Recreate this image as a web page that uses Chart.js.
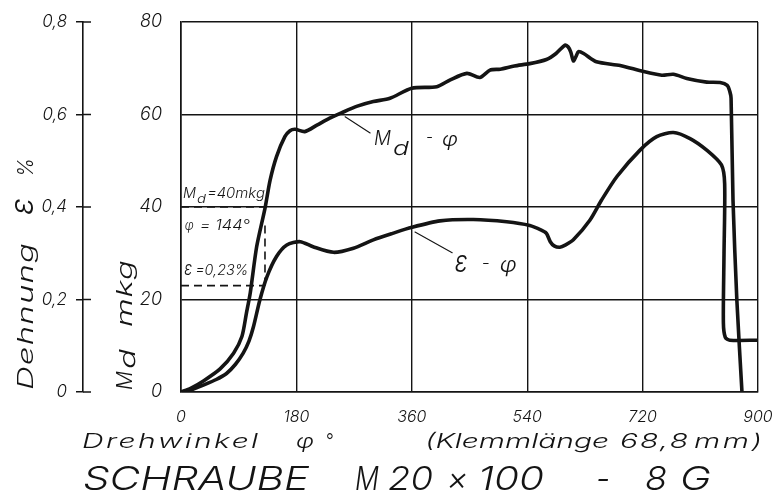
<!DOCTYPE html>
<html>
<head>
<meta charset="utf-8">
<script src="https://cdn.jsdelivr.net/npm/chart.js@4.4.1/dist/chart.umd.min.js"></script>
<style>
  html, body { margin: 0; padding: 0; background: #fff; }
  #wrap { width: 779px; height: 498px; }
</style>
</head>
<body>
<div id="wrap"><canvas id="chart" width="779" height="498"></canvas></div>
<script>
// Md - phi curve (Drehmoment in mkg over Drehwinkel in degrees)
const mdPhi = [0, 15, 35, 61, 82, 95, 102, 108, 118, 131, 139, 149, 162, 170, 178, 193, 212, 232, 251, 275,
  300, 326, 360, 399, 420, 446, 466, 482, 498, 520, 544, 570, 585, 599, 604, 608, 612, 616, 620, 628, 648, 685,
  721, 750, 768, 789, 820, 841, 852, 856, 858, 861, 867, 875];
const mdValues = [0, 0.8, 2.4, 5.0, 8.4, 12, 17, 21.4, 31.4, 39.7, 45.8, 50.9, 55.2, 56.5, 56.8, 56.3, 57.7, 59.2, 60.4, 61.8,
  62.8, 63.5, 65.7, 66.0, 67.5, 68.9, 68.0, 69.6, 69.8, 70.5, 71.0, 71.9, 73.2, 75.0, 74.6, 73.5, 71.6, 72.5, 73.6, 73.2, 71.4, 70.6,
  69.3, 68.5, 68.7, 67.8, 67.0, 66.9, 66.3, 65.0, 63.5, 41.5, 19.9, 0];

// Dehnung epsilon in % over Drehwinkel
const epsPhi = [0, 15, 35, 55, 71, 85, 97, 106, 113, 123, 134, 149, 165, 186, 206, 238, 269, 300, 330, 360, 404, 456,
  508, 544, 562, 570, 576, 582, 591, 600, 612, 638, 656, 680, 716, 742, 768, 794, 820, 843, 848, 847, 846, 849, 856, 900];
const epsValues = [0, 0.004, 0.015, 0.027, 0.040, 0.060, 0.084, 0.110, 0.141, 0.199, 0.249, 0.293, 0.318, 0.325, 0.314, 0.302, 0.311, 0.329, 0.343, 0.356, 0.370, 0.373,
  0.368, 0.360, 0.350, 0.343, 0.325, 0.316, 0.313, 0.318, 0.329, 0.372, 0.415, 0.466, 0.523, 0.552, 0.561, 0.548, 0.523, 0.491, 0.45, 0.30, 0.15, 0.118, 0.112, 0.112];

// tick labels
const xTickLabels = ['0', '180', '360', '540', '720', '900'];
const mdTickLabels = ['0', '20', '40', '60', '80'];
const epsTickLabels = ['0', '0,2', '0,4', '0,6', '0,8'];

// reading lines for Md = 40 mkg
const guideMdPhi = [0, 131];
const guideMd = [40, 40];
const guideEpsPhi = [0, 131];
const guideEps = [0.23, 0.23];
const guideVertPhi = [131, 131];
const guideVertMd = [36, 23];

// leader lines of the curve labels
const leaderMdPhi = [256, 295];
const leaderMd = [59.5, 56];
const leaderEpsPhi = [365, 423];
const leaderEps = [0.346, 0.301];

const FAM = 'Inter, "DejaVu Sans", sans-serif';
const INK = '#141414';

const pts = (xs, ys) => xs.map((x, i) => ({ x, y: ys[i] }));

// technical lettering is wide: stretch the glyphs, then open up the spacing
function fitText(ctx, str, x, y, size, width) {
  ctx.font = 'italic 300 ' + size + 'px ' + FAM;
  ctx.letterSpacing = '0px';
  const w0 = ctx.measureText(str).width;
  const n = [...str].length;
  let s = width ? width / w0 : 1;
  let ls = 0;
  if (s > 1.5 && n > 1) {
    s = 1.5;
    ls = (width / s - w0) / (n - 1);
  }
  ctx.save();
  ctx.letterSpacing = ls + 'px';
  ctx.translate(x, y);
  ctx.scale(s, 1);
  ctx.fillText(str, 0, 0);
  ctx.restore();
}

function upText(ctx, str, x, y, size, width) {
  ctx.save();
  ctx.translate(x, y);
  ctx.rotate(-Math.PI / 2);
  fitText(ctx, str, 0, 0, size, width);
  ctx.restore();
}

const textPlugin = {
  id: 'drawingText',
  afterDraw(chart) {
    const ctx = chart.ctx;
    const sx = chart.scales.x, sm = chart.scales.md, se = chart.scales.eps;
    ctx.save();
    ctx.fillStyle = INK;
    ctx.strokeStyle = INK;

    // inner half of the epsilon axis ticks
    ctx.lineWidth = 1.5;
    se.ticks.forEach((t, i) => {
      const y = se.getPixelForTick(i);
      ctx.beginPath();
      ctx.moveTo(se.right, y);
      ctx.lineTo(se.right + 8, y);
      ctx.stroke();
    });

    ctx.textAlign = 'left';
    ctx.textBaseline = 'alphabetic';

    // axis titles, written upwards
    upText(ctx, 'Dehnung', 33, 390, 22, 147);
    upText(ctx, 'ε', 33, 215, 32, 17);
    upText(ctx, '%', 33, 177, 22, 19);
    upText(ctx, 'M', 132, 390, 22, 19);
    upText(ctx, 'd', 135, 369, 22, 20);
    upText(ctx, 'mkg', 132, 327, 22, 67);

    // Md = 40mkg
    let x = sx.getPixelForValue(3), y = sm.getPixelForValue(41.9);
    fitText(ctx, 'M', x, y, 14, 13);
    fitText(ctx, 'd', x + 14, y + 5, 12, 9);
    fitText(ctx, '=40mkg', x + 24, y, 14, 58);

    x = sx.getPixelForValue(6); y = sm.getPixelForValue(35.0);
    fitText(ctx, 'φ', x, y, 14, 9);
    fitText(ctx, '= 144°', x + 15, y, 14, 50);
    x = sx.getPixelForValue(5); y = sm.getPixelForValue(25.3);
    fitText(ctx, 'ε', x, y, 19, 8);
    fitText(ctx, '=0,23%', x + 11, y, 14, 53);

    // Md - phi label
    x = sx.getPixelForValue(301); y = sm.getPixelForValue(53.4);
    fitText(ctx, 'M', x, y, 20, 17);
    fitText(ctx, 'd', x + 19, y + 10, 19, 16);
    fitText(ctx, '-', x + 52, y - 2, 18, 7);
    fitText(ctx, 'φ', x + 68, y + 1, 20, 16);

    // eps - phi label
    x = sx.getPixelForValue(427); y = sm.getPixelForValue(26.0);
    fitText(ctx, 'ε', x, y, 30, 13);
    fitText(ctx, '-', x + 27, y - 3, 18, 8);
    fitText(ctx, 'φ', x + 45, y, 22, 17);

    // captions below the plot
    fitText(ctx, 'Drehwinkel', 82, 448, 20, 176);
    fitText(ctx, 'φ', 296, 448, 20, 18);
    fitText(ctx, '°', 325, 448, 20, 8);
    fitText(ctx, '(Klemmlänge', 425, 448, 20, 184);
    fitText(ctx, '68,8', 620, 448, 20, 68);
    fitText(ctx, 'mm)', 694, 448, 20, 68);

    fitText(ctx, 'SCHRAUBE', 83, 490, 33, 226);
    fitText(ctx, 'M', 355, 490, 33, 24);
    fitText(ctx, '20', 388, 490, 33, 45);
    fitText(ctx, '×', 447, 490, 33, 21);
    fitText(ctx, '100', 478, 490, 33, 66);
    fitText(ctx, '-', 596, 490, 33, 14);
    fitText(ctx, '8', 645, 490, 33, 22);
    fitText(ctx, 'G', 680, 490, 33, 31);
    ctx.restore();
  }
};

const line = (data, axis, extra) => Object.assign({
  data, yAxisID: axis, borderColor: INK, borderWidth: 3.6, pointRadius: 0,
  tension: 0.25, fill: false, borderJoinStyle: 'round', borderCapStyle: 'round'
}, extra || {});

const dash = { borderWidth: 1.6, borderDash: [8, 5], tension: 0, borderCapStyle: 'butt' };
const thin = { borderWidth: 1.1, tension: 0 };
const tickFont = size => ({ family: FAM, size, style: 'italic', weight: 300 });

new Chart(document.getElementById('chart'), {
  type: 'line',
  data: {
    datasets: [
      line(pts(mdPhi, mdValues), 'md'),
      line(pts(epsPhi, epsValues), 'eps'),
      line(pts(guideMdPhi, guideMd), 'md', dash),
      line(pts(guideEpsPhi, guideEps), 'eps', dash),
      line(pts(guideVertPhi, guideVertMd), 'md', dash),
      line(pts(leaderMdPhi, leaderMd), 'md', thin),
      line(pts(leaderEpsPhi, leaderEps), 'eps', thin)
    ]
  },
  options: {
    responsive: false,
    animation: false,
    devicePixelRatio: 1,
    layout: { padding: { top: 22, right: 21, left: 0, bottom: 0 } },
    plugins: { legend: { display: false }, tooltip: { enabled: false } },
    scales: {
      x: {
        type: 'linear', min: 0, max: 900,
        afterFit: s => { s.height = 106; },
        grid: { color: INK, lineWidth: 1.4, tickLength: 14, tickColor: 'rgba(0,0,0,0)' },
        border: { color: INK, width: 1.6 },
        ticks: {
          stepSize: 180, padding: 2, color: INK, maxRotation: 0,
          font: tickFont(16),
          callback: (v, i) => xTickLabels[i]
        }
      },
      md: {
        type: 'linear', position: 'left', min: 0, max: 80, weight: 0,
        afterFit: s => { s.width = 98; },
        grid: { color: INK, lineWidth: 1.4, tickLength: 17, tickColor: 'rgba(0,0,0,0)' },
        border: { color: INK, width: 1.6 },
        ticks: {
          stepSize: 20, padding: 2, color: INK,
          font: tickFont(18),
          callback: (v, i) => mdTickLabels[i]
        }
      },
      eps: {
        type: 'linear', position: 'left', min: 0, max: 0.8, weight: 10,
        afterFit: s => { s.width = 83; },
        grid: { drawOnChartArea: false, color: INK, lineWidth: 1.5, tickLength: 7 },
        border: { color: INK, width: 1.6 },
        ticks: {
          stepSize: 0.2, padding: 9, color: INK,
          font: tickFont(17),
          callback: (v, i) => epsTickLabels[i]
        }
      }
    }
  },
  plugins: [textPlugin]
});
</script>
</body>
</html>
